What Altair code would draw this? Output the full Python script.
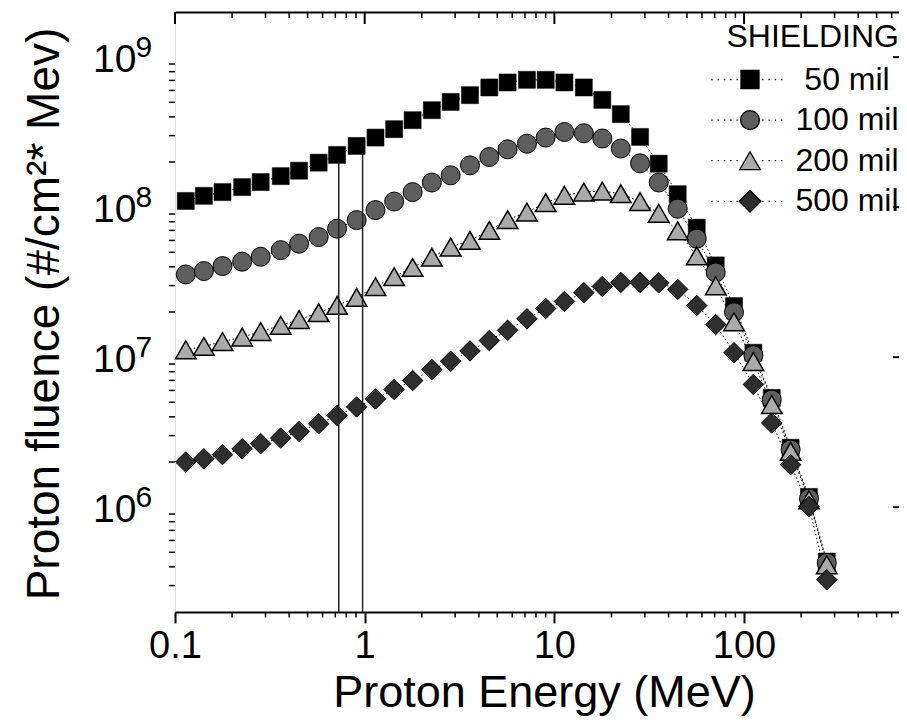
import altair as alt
import pandas as pd

FONT = "Liberation Sans"

series_names = ["50 mil", "100 mil", "200 mil", "500 mil"]

energy = [0.114, 0.142, 0.178, 0.226, 0.283, 0.361, 0.451, 0.572, 0.715, 0.907,
          1.14, 1.43, 1.79, 2.26, 2.84, 3.59, 4.54, 5.67, 7.17, 9.00,
          11.3, 14.3, 17.9, 22.4, 28.3, 35.5, 44.7, 56.3, 70.9, 88.5,
          112, 140, 176, 220, 273]

f50 = [1.10e8, 1.19e8, 1.26e8, 1.36e8, 1.47e8, 1.61e8, 1.75e8, 1.98e8, 2.23e8, 2.56e8,
       2.91e8, 3.31e8, 3.80e8, 4.43e8, 5.03e8, 5.58e8, 6.28e8, 6.78e8, 7.06e8, 7.06e8,
       6.78e8, 6.28e8, 5.19e8, 4.17e8, 2.94e8, 1.95e8, 1.22e8, 7.30e7, 4.09e7, 2.19e7,
       1.07e7, 5.35e6, 2.49e6, 1.17e6, 4.34e5]
f100 = [3.56e7, 3.75e7, 4.05e7, 4.33e7, 4.67e7, 5.17e7, 5.71e7, 6.32e7, 7.19e7, 8.20e7,
        9.56e7, 1.09e8, 1.26e8, 1.46e8, 1.63e8, 1.90e8, 2.16e8, 2.43e8, 2.65e8, 2.91e8,
        3.17e8, 3.11e8, 2.87e8, 2.46e8, 1.96e8, 1.46e8, 9.77e7, 6.16e7, 3.67e7, 1.99e7,
        1.03e7, 5.21e6, 2.42e6, 1.14e6, 4.25e5]
f200 = [1.12e7, 1.18e7, 1.27e7, 1.36e7, 1.48e7, 1.63e7, 1.78e7, 1.98e7, 2.21e7, 2.50e7,
        2.95e7, 3.44e7, 3.96e7, 4.64e7, 5.42e7, 6.00e7, 7.00e7, 8.25e7, 9.28e7, 1.07e8,
        1.20e8, 1.26e8, 1.28e8, 1.23e8, 1.09e8, 9.09e7, 6.95e7, 4.73e7, 2.99e7, 1.72e7,
        9.35e6, 4.83e6, 2.35e6, 1.12e6, 4.13e5]
f500 = [2.00e6, 2.10e6, 2.24e6, 2.45e6, 2.65e6, 2.89e6, 3.20e6, 3.60e6, 4.09e6, 4.66e6,
        5.27e6, 6.08e6, 6.98e6, 8.26e6, 9.39e6, 1.10e7, 1.29e7, 1.51e7, 1.80e7, 2.11e7,
        2.35e7, 2.69e7, 2.96e7, 3.15e7, 3.15e7, 3.13e7, 2.83e7, 2.21e7, 1.65e7, 1.07e7,
        6.57e6, 3.64e6, 1.92e6, 1.01e6, 3.28e5]

x_major = [0.1, 1, 10, 100]
x_minor = [0.2, 0.3, 0.4, 0.5, 0.6, 0.7, 0.8, 0.9,
           2, 3, 4, 5, 6, 7, 8, 9,
           20, 30, 40, 50, 60, 70, 80, 90,
           200, 300, 400, 500, 600]
y_major = [1e6, 1e7, 1e8, 1e9]
y_exponent = ["6", "7", "8", "9"]
y_minor = [3e5, 4e5, 5e5, 6e5, 7e5, 8e5, 9e5,
           2e6, 3e6, 4e6, 5e6, 6e6, 7e6, 8e6, 9e6,
           2e7, 3e7, 4e7, 5e7, 6e7, 7e7, 8e7, 9e7,
           2e8, 3e8, 4e8, 5e8, 6e8, 7e8, 8e8, 9e8]

marker_energy = [0.73, 0.975]
marker_top = [2.0e8, 2.3e8]

x_title = "Proton Energy (MeV)"
y_title = "Proton fluence (#/cm²* Mev)"

# styles
fills = ["#000000", "#5e5e5e", "#aaaaaa", "#2e2e2e"]
shapes = ["square", "circle", "triangle-up", "diamond"]
sizes = [290, 361, 420, 420]
stroke_w = [0.5, 1.0, 1.5, 1.0]
dots = ("M-4.3,0h0.15M-3.6,0h0.15M-2.9,0h0.15M-2.2,0h0.15M-1.5,0h0.15"
        "M1.35,0h0.15M2.05,0h0.15M2.75,0h0.15M3.45,0h0.15")
legend_paths = [
    dots + "M-1,-1H1V1H-1Z",
    dots + "M1.05,0A1.05,1.05 0 1,1 -1.05,0A1.05,1.05 0 1,1 1.05,0Z",
    dots + "M0,-1L1.15,1L-1.15,1Z",
    dots + "M-1.2,0L0,-1.2L1.2,0L0,1.2Z",
]

rows = []
for name, vals in zip(series_names, [f50, f100, f200, f500]):
    for i, (e, v) in enumerate(zip(energy, vals)):
        rows.append({"series": name, "energy": e, "fluence": v, "idx": i})
df = pd.DataFrame(rows)

W, H = 724, 600
xs = alt.Scale(type="log", domain=[0.1, 656], nice=False)
ys = alt.Scale(type="log", domain=[2e5, 2e9], nice=False)

x_axis = alt.Axis(orient="bottom", values=x_major, format="~g", grid=False,
                  domainColor="black", domainWidth=2, tickColor="black", tickWidth=2,
                  tickSize=11, labelFont=FONT, labelFontSize=38, labelColor="black",
                  labelBaseline="alphabetic", labelPadding=34, labelFlush=False,
                  labelOverlap=False, title=x_title, titleFont=FONT,
                  titleFontSize=45, titleFontWeight="normal", titleColor="black",
                  titleX=369, titleY=94, titleBaseline="alphabetic", titleAlign="center")
y_axis = alt.Axis(orient="left", values=y_major, grid=False, labels=False,
                  domainColor="black", domainWidth=2, tickColor="black", tickWidth=2,
                  tickSize=12, title="")

lines = alt.Chart(df).mark_line(color="black", strokeWidth=1, strokeDash=[1.5, 2.5]).encode(
    x=alt.X("energy:Q", scale=xs, axis=x_axis),
    y=alt.Y("fluence:Q", scale=ys, axis=y_axis),
    detail="series:N",
    order="idx:Q",
)

pts = []
for name, shp, fc, sz, sw in zip(series_names, shapes, fills, sizes, stroke_w):
    pts.append(
        alt.Chart(df).transform_filter(alt.datum.series == name)
        .mark_point(shape=shp, filled=True, color=fc, fill=fc, stroke="black",
                    strokeWidth=sw, size=sz, opacity=1)
        .encode(x=alt.X("energy:Q", scale=xs, axis=None),
                y=alt.Y("fluence:Q", scale=ys, axis=None))
    )

vdf = pd.DataFrame({"energy": marker_energy, "top": marker_top})
vlines = alt.Chart(vdf).mark_rule(color="#222222", strokeWidth=1.5).encode(
    x=alt.X("energy:Q", scale=xs, axis=None),
    y=alt.Y("top:Q", scale=ys, axis=None),
    y2=alt.value(H),
)


def tick_rules(values, dim, p1, p2, width, axis=None):
    d = pd.DataFrame({"v": values})
    if dim == "x":
        enc = dict(x=alt.X("v:Q", scale=xs, axis=axis), y=alt.value(p1), y2=alt.value(p2))
    else:
        enc = dict(y=alt.Y("v:Q", scale=ys, axis=axis), x=alt.value(p1), x2=alt.value(p2))
    return alt.Chart(d).mark_rule(color="black", strokeWidth=width).encode(**enc)


top_axis = alt.Axis(orient="top", labels=False, ticks=False, domain=True,
                    domainColor="black", domainWidth=2, grid=False, title="")

ticks = [
    tick_rules(x_minor, "x", H, H + 5.5, 1.5),
    tick_rules(x_major, "x", 0, 12, 2, axis=top_axis),
    tick_rules(x_minor, "x", 0, 6, 1.5),
    tick_rules(y_minor, "y", -6, 0, 1.5),
    tick_rules(y_major, "y", W - 6, W, 2),
]

ylab = pd.DataFrame({"v": y_major, "exp": y_exponent})
ten = alt.Chart(ylab).mark_text(text="10", align="right", baseline="alphabetic", font=FONT,
                                fontSize=39, color="black", dy=15).encode(
    y=alt.Y("v:Q", scale=ys, axis=None), x=alt.value(-38.5))
exps = alt.Chart(ylab).mark_text(align="left", baseline="alphabetic", font=FONT,
                                 fontSize=30, color="black").encode(
    y=alt.Y("v:Q", scale=ys, axis=None), x=alt.value(-39.5), text="exp:N")

ytitle = alt.Chart(pd.DataFrame({"t": [y_title]})).mark_text(
    angle=270, align="center", baseline="alphabetic", font=FONT, fontSize=46,
    color="black").encode(text="t:N", x=alt.value(-116), y=alt.value(302))

leg = alt.Legend(title="SHIELDING", orient="none", legendX=552, legendY=9.5, padding=0,
                 titleFont=FONT, titleFontSize=32, titleFontWeight="normal",
                 titleColor="black", titleAnchor="end", titlePadding=10,
                 labelFont=FONT, labelFontSize=32, labelColor="black", labelAlign="center",
                 labelOffset=81, symbolSize=324, symbolStrokeWidth=1.3,
                 symbolStrokeColor="black", symbolOpacity=1, rowPadding=8.6)

legend_layer = alt.Chart(df).transform_filter("false").mark_point(
    strokeWidth=1.3, opacity=1).encode(
    x=alt.X("energy:Q", scale=xs, axis=None),
    y=alt.Y("fluence:Q", scale=ys, axis=None),
    fill=alt.Fill("series:N", scale=alt.Scale(domain=series_names, range=fills), legend=leg),
    stroke=alt.Stroke("series:N", scale=alt.Scale(domain=series_names,
                                                  range=["#000000"] * 4), legend=leg),
    shape=alt.Shape("series:N", scale=alt.Scale(domain=series_names, range=legend_paths), legend=leg),
)

chart = alt.layer(lines, *pts, vlines, *ticks, ten, exps, ytitle, legend_layer).resolve_axis(
    x="independent"
).properties(
    width=W, height=H,
    autosize=alt.AutoSizeParams(type="none"),
    padding={"left": 167, "top": 4, "right": 0, "bottom": 104},
    background="white",
).configure_view(strokeWidth=0).configure(font=FONT)

chart.save("out.html", embed_options={"renderer": "svg", "actions": False})
